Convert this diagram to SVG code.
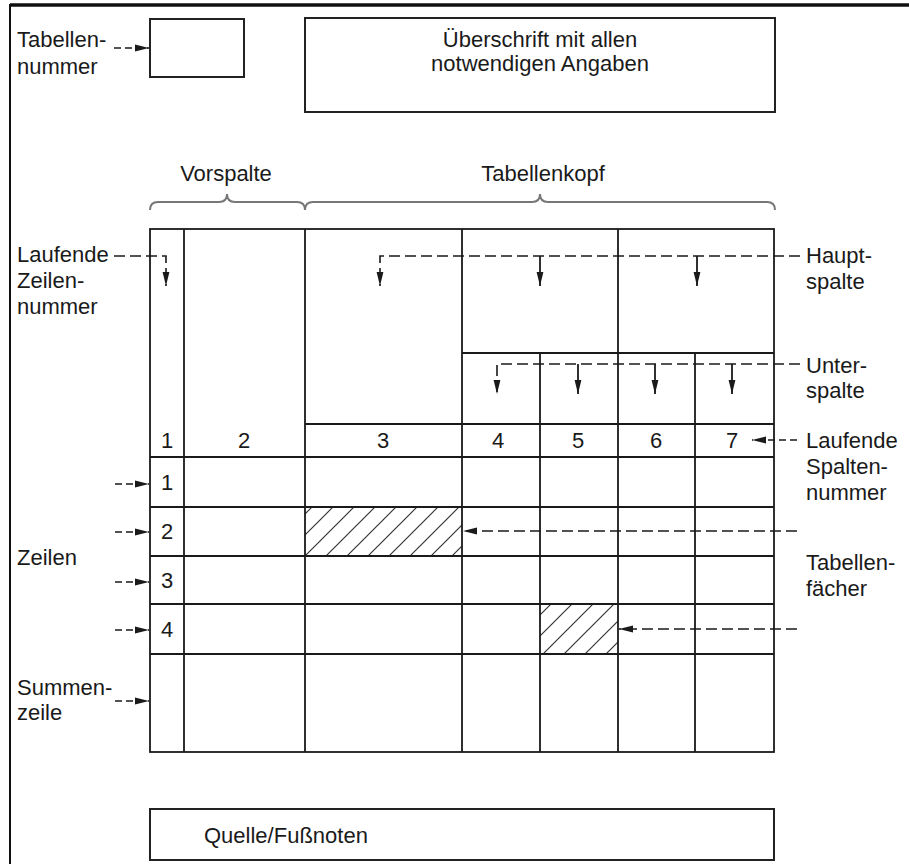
<svg xmlns="http://www.w3.org/2000/svg" width="909" height="864" viewBox="0 0 909 864">
<defs>
<style>
text{font-family:"Liberation Sans",Arial,sans-serif;font-size:22px;fill:#1a1a1a}
.c{text-anchor:middle}
.ln{stroke:#1a1a1a;stroke-width:1.8;fill:none}
.bx{stroke:#222;stroke-width:2;fill:none}
.ds{stroke:#1a1a1a;stroke-width:1.6;fill:none;stroke-dasharray:11 5}
.sd{stroke:#1a1a1a;stroke-width:1.6;fill:none;stroke-dasharray:7 4}
.br{stroke:#777;stroke-width:2;fill:none}
</style>
<marker id="ar" viewBox="0 0 14 8" refX="14" refY="4" markerWidth="14" markerHeight="8" markerUnits="userSpaceOnUse" orient="auto">
<path d="M0,0.6 L14,4 L0,7.4 z" fill="#1a1a1a"/>
</marker>
<pattern id="hatch" patternUnits="userSpaceOnUse" width="21" height="21">
<path d="M-5,5 L5,-5 M0,21 L21,0 M16,26 L26,16" stroke="#333" stroke-width="1.2"/>
</pattern>
</defs>
<rect width="909" height="864" fill="#fff"/>
<g id="frame">
<line x1="10" y1="5" x2="909" y2="5" stroke="#111" stroke-width="3.5"/>
<line x1="10" y1="4" x2="10" y2="864" stroke="#111" stroke-width="2"/>
</g>
<g id="tabellennummer">
<rect class="bx" x="150" y="19" width="94" height="58"/>
<text x="17" y="47">Tabellen-</text>
<text x="17" y="74">nummer</text>
</g>
<g id="ueberschrift">
<rect class="bx" x="305" y="18" width="470" height="94"/>
<text class="c" x="540" y="47">Überschrift mit allen</text>
<text class="c" x="540" y="71">notwendigen Angaben</text>
</g>
<g id="vorspalte">
<path class="br" d="M150,210 Q150,202 158,202 L219,202 Q227,202 227,194 Q227,202 235,202 L297,202 Q305,202 305,210"/>
<text class="c" x="226" y="181">Vorspalte</text>
</g>
<g id="tabellenkopf">
<path class="br" d="M305,210 Q305,202 313,202 L532,202 Q540,202 540,194 Q540,202 548,202 L767,202 Q775,202 775,210"/>
<text class="c" x="543" y="181">Tabellenkopf</text>
</g>
<g id="tabelle">
<rect x="305" y="507" width="157" height="49" fill="url(#hatch)"/>
<rect x="540" y="604" width="78" height="50" fill="url(#hatch)"/>
<rect class="ln" x="150" y="229" width="624" height="523"/>
<path class="ln" d="M184,229 V752 M305,229 V752 M462,229 V752 M618,229 V752 M540,353 V752 M695,353 V752 M462,353 H774 M305,424 H774 M150,457 H774 M150,507 H774 M150,556 H774 M150,604 H774 M150,654 H774"/>
<text class="c" x="167" y="448">1</text>
<text class="c" x="244" y="448">2</text>
<text class="c" x="383" y="448">3</text>
<text class="c" x="498" y="448">4</text>
<text class="c" x="578" y="448">5</text>
<text class="c" x="656" y="448">6</text>
<text class="c" x="732" y="448">7</text>
<text class="c" x="167" y="490">1</text>
<text class="c" x="167" y="539">2</text>
<text class="c" x="167" y="588">3</text>
<text class="c" x="167" y="637">4</text>
</g>
<g id="labels">
<text x="17" y="262">Laufende</text>
<text x="17" y="288">Zeilen-</text>
<text x="17" y="314">nummer</text>
<text x="806" y="263">Haupt-</text>
<text x="806" y="289">spalte</text>
<text x="806" y="373">Unter-</text>
<text x="806" y="398">spalte</text>
<text x="806" y="448">Laufende</text>
<text x="806" y="474">Spalten-</text>
<text x="806" y="500">nummer</text>
<text x="17" y="565">Zeilen</text>
<text x="806" y="570">Tabellen-</text>
<text x="806" y="596">fächer</text>
<text x="17" y="695">Summen-</text>
<text x="17" y="720">zeile</text>
</g>
<g id="quelle">
<rect class="bx" x="150" y="809" width="624" height="51"/>
<text x="204" y="843">Quelle/Fußnoten</text>
</g>
<g id="connectors">
<path class="sd" d="M114,48 H149" marker-end="url(#ar)"/>
<path class="ds" d="M114,256 H166 V286" marker-end="url(#ar)"/>
<path class="ds" d="M800,256 H380 V286" marker-end="url(#ar)"/>
<path class="ln" d="M540,256 V286" marker-end="url(#ar)"/>
<path class="ln" d="M697,256 V286" marker-end="url(#ar)"/>
<path class="ds" d="M800,364 H497 V394" marker-end="url(#ar)"/>
<path class="ln" d="M578,364 V394" marker-end="url(#ar)"/>
<path class="ln" d="M655,364 V394" marker-end="url(#ar)"/>
<path class="ln" d="M732,364 V394" marker-end="url(#ar)"/>
<path class="sd" d="M797,440 H752" marker-end="url(#ar)"/>
<path class="sd" d="M115,484 H149" marker-end="url(#ar)"/>
<path class="sd" d="M115,532 H149" marker-end="url(#ar)"/>
<path class="sd" d="M115,582 H149" marker-end="url(#ar)"/>
<path class="sd" d="M115,630 H149" marker-end="url(#ar)"/>
<path class="sd" d="M115,701 H149" marker-end="url(#ar)"/>
<path class="ds" d="M797,531 H463" marker-end="url(#ar)"/>
<path class="ds" d="M797,629 H619" marker-end="url(#ar)"/>
</g>
</svg>
